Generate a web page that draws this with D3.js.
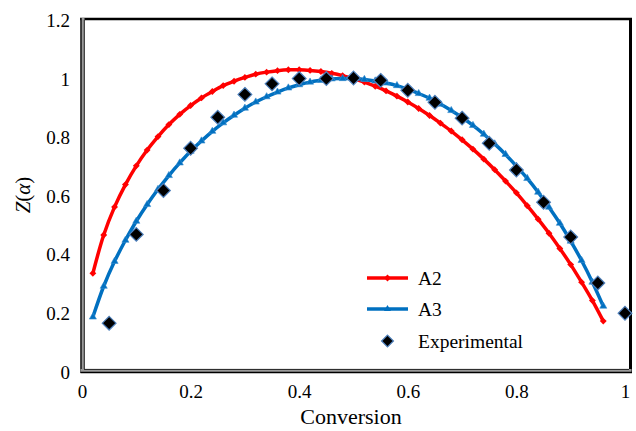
<!DOCTYPE html>
<html>
<head>
<meta charset="utf-8">
<script src="https://cdn.jsdelivr.net/npm/d3@7"></script>
<style>
  html, body { margin: 0; padding: 0; background: #fff; }
  svg { display: block; }
  svg text { font-family: "Liberation Serif", "Times New Roman", serif !important; fill: #000; }
</style>
</head>
<body>
<svg id="chart" width="636" height="431"></svg>
<script>
// ---- data ----
const modelAlpha = [0.02,0.04,0.06,0.08,0.10,0.12,0.14,0.16,0.18,0.20,0.22,0.24,0.26,0.28,0.30,0.32,0.34,0.36,0.38,0.40,0.42,0.44,0.46,0.48,0.50,0.52,0.54,0.56,0.58,0.60,0.62,0.64,0.66,0.68,0.70,0.72,0.74,0.76,0.78,0.80,0.82,0.84,0.86,0.88,0.90,0.92,0.94,0.96];
const a2Values = [0.335,0.466,0.562,0.638,0.702,0.756,0.802,0.843,0.878,0.908,0.934,0.956,0.976,0.991,1.004,1.015,1.022,1.027,1.030,1.030,1.028,1.024,1.018,1.010,1.000,0.988,0.974,0.958,0.940,0.920,0.898,0.874,0.848,0.821,0.791,0.759,0.725,0.689,0.650,0.610,0.566,0.520,0.472,0.420,0.365,0.305,0.242,0.172];
const a3Values = [0.186,0.291,0.376,0.448,0.513,0.570,0.622,0.669,0.712,0.752,0.787,0.820,0.849,0.875,0.899,0.920,0.938,0.954,0.968,0.979,0.988,0.994,0.999,1.000,1.000,0.997,0.992,0.985,0.976,0.964,0.949,0.933,0.913,0.891,0.867,0.840,0.810,0.777,0.741,0.701,0.659,0.612,0.561,0.506,0.445,0.379,0.305,0.223];
const expAlpha = [0.05,0.10,0.15,0.20,0.25,0.30,0.35,0.40,0.45,0.50,0.55,0.60,0.65,0.70,0.75,0.80,0.85,0.90,0.95,1.00];
const expValues = [0.165,0.468,0.618,0.762,0.868,0.946,0.982,1.000,1.000,1.002,0.994,0.960,0.919,0.865,0.779,0.688,0.578,0.459,0.302,0.199];
const xTicks = [0, 0.2, 0.4, 0.6, 0.8, 1];
const yTicks = [0, 0.2, 0.4, 0.6, 0.8, 1, 1.2];
const xTickLabels = ["0", "0.2", "0.4", "0.6", "0.8", "1"];
const yTickLabels = ["0", "0.2", "0.4", "0.6", "0.8", "1", "1.2"];
const seriesNames = ["A2", "A3", "Experimental"];

// ---- layout ----
const svg = d3.select("#chart");
const x = d3.scaleLinear().domain([0, 1]).range([82, 625]);
const y = d3.scaleLinear().domain([0, 1.2]).range([371.5, 20]);

const red = "#FF0000", blue = "#0070C0", expStroke = "#4F81BD";
const serif = "Liberation Serif";

// plot frame
const frame = svg.append("g");
frame.append("line").attr("x1", 80).attr("x2", 632).attr("y1", 19).attr("y2", 19).attr("stroke", "#000").attr("stroke-width", 2.5);
frame.append("line").attr("x1", 630.5).attr("x2", 630.5).attr("y1", 18).attr("y2", 373).attr("stroke", "#000").attr("stroke-width", 3);
frame.append("rect").attr("x", 80.5).attr("y", 18).attr("width", 4).attr("height", 355).attr("fill", "#9a9a9a");
frame.append("line").attr("x1", 81).attr("x2", 81).attr("y1", 18).attr("y2", 373).attr("stroke", "#000").attr("stroke-width", 1.3);
frame.append("line").attr("x1", 84.3).attr("x2", 84.3).attr("y1", 20).attr("y2", 369.8).attr("stroke", "#222").attr("stroke-width", 1);
frame.append("rect").attr("x", 80.5).attr("y", 369).attr("width", 551).attr("height", 4).attr("fill", "#9a9a9a");
frame.append("line").attr("x1", 80.5).attr("x2", 632).attr("y1", 372.5).attr("y2", 372.5).attr("stroke", "#000").attr("stroke-width", 1.3);
frame.append("line").attr("x1", 84).attr("x2", 629).attr("y1", 369.4).attr("y2", 369.4).attr("stroke", "#222").attr("stroke-width", 1);

// axes (labels only, no ticks)
const xAxis = d3.axisBottom(x).tickValues(xTicks).tickSize(0).tickPadding(0)
  .tickFormat((d, i) => xTickLabels[i]);
const gx = svg.append("g").attr("transform", "translate(0,384)").call(xAxis)
  .attr("font-family", serif);
gx.select(".domain").remove();
gx.selectAll("text").attr("font-size", 19).attr("fill", "#000").attr("dy", "0.71em");

const yAxis = d3.axisLeft(y).tickValues(yTicks).tickSize(0).tickPadding(0)
  .tickFormat((d, i) => yTickLabels[i]);
const gy = svg.append("g").attr("transform", "translate(70,0)").call(yAxis)
  .attr("font-family", serif);
gy.select(".domain").remove();
gy.selectAll("text").attr("font-size", 19).attr("fill", "#000").attr("dy", "0.35em");

// axis titles
svg.append("text").attr("x", 351).attr("y", 424).attr("text-anchor", "middle")
  .attr("font-size", 22).text("Conversion");
const yt = svg.append("text").attr("transform", "translate(30,195) rotate(-90)")
  .attr("text-anchor", "middle").attr("font-size", 21);
yt.append("tspan").attr("font-style", "italic").text("Z");
yt.append("tspan").text("(");
yt.append("tspan").attr("font-style", "italic").text("α");
yt.append("tspan").text(")");

// lines
const line = d3.line().x(d => x(d[0])).y(d => y(d[1])).curve(d3.curveCatmullRom.alpha(0.5));
const a2 = modelAlpha.map((a, i) => [a, a2Values[i]]);
const a3 = modelAlpha.map((a, i) => [a, a3Values[i]]);

const diamond = d3.symbol().type(d3.symbolDiamond2);
const tri = d3.symbol().type(d3.symbolTriangle);

svg.append("path").datum(a2).attr("d", line).attr("fill", "none").attr("stroke", red).attr("stroke-width", 3.5);
svg.append("g").selectAll("path").data(a2).join("path")
  .attr("transform", d => `translate(${x(d[0])},${y(d[1])})`)
  .attr("d", diamond.size(30)()).attr("fill", red);

svg.append("path").datum(a3).attr("d", line).attr("fill", "none").attr("stroke", blue).attr("stroke-width", 3.5);
svg.append("g").selectAll("path").data(a3).join("path")
  .attr("transform", d => `translate(${x(d[0])},${y(d[1])})`)
  .attr("d", tri.size(22)()).attr("fill", blue).attr("stroke", "#3a8fd0").attr("stroke-width", 0.6);

// experimental points
const expData = expAlpha.map((a, i) => [a, expValues[i]]);
svg.append("g").selectAll("path").data(expData).join("path")
  .attr("transform", d => `translate(${x(d[0])},${y(d[1])})`)
  .attr("d", diamond.size(120)()).attr("fill", "#000").attr("stroke", expStroke).attr("stroke-width", 1.2);

// legend
const lg = svg.append("g");
const legY = [278, 309, 341];
lg.append("line").attr("x1", 367).attr("x2", 408).attr("y1", legY[0]).attr("y2", legY[0]).attr("stroke", red).attr("stroke-width", 3.5);
lg.append("path").attr("transform", `translate(387.5,${legY[0]})`).attr("d", diamond.size(30)()).attr("fill", red);
lg.append("line").attr("x1", 367).attr("x2", 408).attr("y1", legY[1]).attr("y2", legY[1]).attr("stroke", blue).attr("stroke-width", 3.5);
lg.append("path").attr("transform", `translate(387.5,${legY[1]})`).attr("d", tri.size(22)()).attr("fill", blue);
lg.append("path").attr("transform", `translate(387.5,${legY[2]})`).attr("d", diamond.size(90)()).attr("fill", "#000").attr("stroke", expStroke).attr("stroke-width", 1.2);
seriesNames.forEach((n, i) => {
  lg.append("text").attr("x", 418).attr("y", legY[i] + 6.5).attr("font-size", 19.5).text(n);
});
</script>
</body>
</html>
